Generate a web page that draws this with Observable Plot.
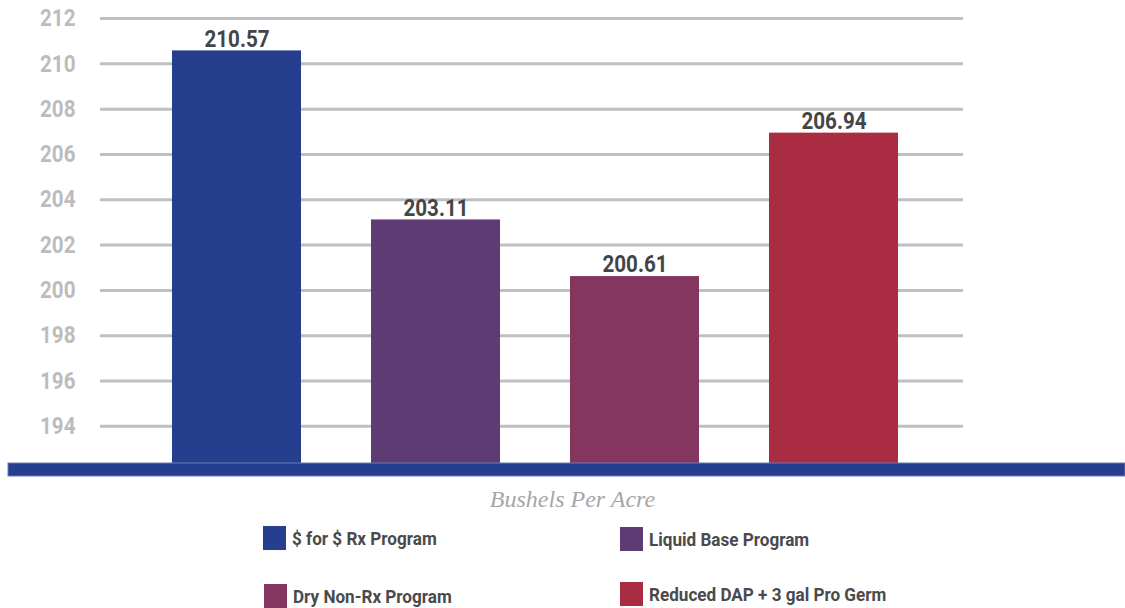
<!DOCTYPE html>
<html><head><meta charset="utf-8">
<script src="https://cdn.jsdelivr.net/npm/d3@7"></script>
<script src="https://cdn.jsdelivr.net/npm/@observablehq/plot@0.6"></script>
<style>
body{margin:0;background:#fff;width:1125px;height:608px;overflow:hidden;position:relative;font-family:Roboto,"DejaVu Sans",sans-serif;}
#chart{position:absolute;left:0;top:0;}
.xlabel{position:absolute;left:0;width:1145px;top:486px;text-align:center;font-family:"Liberation Serif","DejaVu Serif",serif;font-style:italic;font-size:24px;color:#a6a6a8;}
.item{position:absolute;display:flex;align-items:center;}
.sw{width:23px;height:24px;margin-right:6px;}
.lt{font-weight:bold;font-size:19px;color:#4a4a4c;display:inline-block;transform:scaleX(0.9);transform-origin:left center;white-space:nowrap;}
</style></head>
<body>
<div id="chart"></div>
<div class="xlabel">Bushels Per Acre</div>
<div id="legend"></div>
<script>
const programs = ["$ for $ Rx Program","Liquid Base Program","Dry Non-Rx Program","Reduced DAP + 3 gal Pro Germ"];
const yields = [210.57, 203.11, 200.61, 206.94];
const colors = ["#253f8e","#5e3b73","#84365e","#a92c42"];
const yTicks = [194,196,198,200,202,204,206,208,210,212];
const yMin = 192.36, yMax = 212;

const data = programs.map((p,i)=>({program:p, value:yields[i], color:colors[i]}));
const font = 'Roboto,"DejaVu Sans",sans-serif';

const plot = Plot.plot({
  width:1125, height:480,
  marginLeft:100, marginRight:162, marginTop:18, marginBottom:17,
  style:{fontFamily:font, background:"transparent"},
  x:{domain:programs, range:[137,933], paddingInner:0.35, paddingOuter:0.175, axis:null},
  y:{domain:[yMin,yMax], range:[463,18]},
  marks:[
    Plot.gridY(yTicks,{stroke:"#bfbfc3", strokeWidth:3, strokeOpacity:1}),
    Plot.axisY(yTicks,{tickSize:0, tickPadding:25, fontSize:24, fontWeight:"bold", fill:"#bcbcbe", label:null, tickFormat:d=>d}),
    Plot.barY(data,{x:"program", y1:yMin, y2:"value", fill:"color"}),
    Plot.text(data,{x:"program", y:"value", text:d=>d.value.toFixed(2), dy:-12, fontSize:24, fontWeight:"bold", fill:"#454547"})
  ]
});
document.getElementById("chart").appendChild(plot);
// condensed look for the text
d3.select(plot).selectAll("text").each(function(){
  const t = this.getAttribute("transform") || "";
  this.setAttribute("transform", t + " scale(0.86,1)");
});
// baseline band
const ys = plot.scale("y").apply(yMin);
d3.select(plot).append("rect").attr("x",8).attr("y",ys).attr("width",1117).attr("height",13)
  .attr("fill","#253f8e").attr("stroke","#6a7db5").attr("stroke-width",1);

const pos = [[263,526],[620,527],[264,584],[620,582]];
const leg = d3.select("#legend");
programs.forEach((p,i)=>{
  const it = leg.append("div").attr("class","item").style("left",pos[i][0]+"px").style("top",pos[i][1]+"px");
  it.append("div").attr("class","sw").style("background",colors[i]);
  it.append("span").attr("class","lt").text(p);
});
</script>
</body></html>
